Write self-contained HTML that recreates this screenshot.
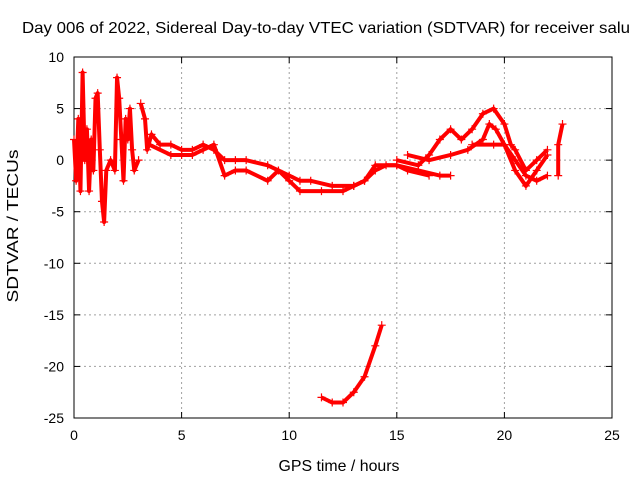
<!DOCTYPE html>
<html><head><meta charset="utf-8"><style>
body{margin:0;background:#fff}
svg{display:block;font-family:"Liberation Sans",sans-serif}
</style></head><body>
<svg id="chart" width="640" height="480">
<text x="22" y="33" font-size="16" textLength="608" lengthAdjust="spacingAndGlyphs">Day 006 of 2022, Sidereal Day-to-day VTEC variation (SDTVAR) for receiver salu</text>
<g id="grid"></g><g id="axes"></g><g id="marks"></g>
<text x="339" y="471" font-size="16" text-anchor="middle" textLength="121" lengthAdjust="spacingAndGlyphs">GPS time / hours</text>
<text transform="translate(18,226) rotate(-90)" font-size="16" text-anchor="middle" textLength="153" lengthAdjust="spacingAndGlyphs">SDTVAR / TECUs</text>
</svg>
<script>
const xTicks=[0,5,10,15,20,25];
const yTicks=[10,5,0,-5,-10,-15,-20,-25];
const trackEarly=[[0,2],[0.1,-2],[0.2,4],[0.3,-3],[0.4,8.5],[0.5,0],[0.6,3],[0.7,-3],[0.8,2],[0.9,-1],[1.0,6],[1.1,6.5],[1.2,1],[1.3,-4],[1.4,-6],[1.5,-1],[1.7,0],[1.9,-1],[2.0,8],[2.1,6],[2.2,2],[2.3,-2],[2.4,4],[2.5,2],[2.6,5],[2.7,1],[2.8,-1],[3.0,0]];
const trackUpper=[[3.1,5.5],[3.3,4],[3.4,1],[3.6,2.5],[4,1.5],[4.5,1.5],[5,1],[5.5,1],[6,1.5],[6.5,1],[7,0],[7.5,0],[8,0],[9,-0.5],[10,-1.5],[10.5,-2],[11,-2],[12,-2.5],[13,-2.5],[13.5,-2],[14,-1],[14.5,-0.5],[15,-0.5],[16,-1],[17,-1.5],[17.5,-1.5]];
const trackLower=[[3.5,1.5],[4.5,0.5],[5,0.5],[5.5,0.5],[6,1],[6.5,1.5],[7,-1.5],[7.5,-1],[8,-1],[9,-2],[9.5,-1],[10,-2],[10.5,-3],[11.5,-3],[12.5,-3],[13,-2.5],[13.5,-2],[14,-0.5],[15,-0.5],[15.5,-1],[16.5,-1.5]];
const trackD=[[15,0],[16,-0.5],[16.5,0.5],[17,2],[17.5,3],[18,2],[18.5,3],[19,4.5],[19.5,5],[20,3.5],[20.3,1.5],[20.5,1],[21,-1],[21.5,0],[22,1]];
const trackE=[[15.5,0.5],[16.5,0],[17.5,0.5],[18.3,1],[19,2],[19.3,3.5],[19.6,3],[20,1.5],[20.5,-1],[21,-2.5],[21.5,-1],[22,0.5]];
const trackF=[[18.5,1.5],[19.5,1.5],[20,1.5],[20.5,0],[21,-1.5],[21.5,-2],[22,-1.5]];
const trackG=[[22.5,-1.5],[22.5,1.5],[22.7,3.5]];
const trackH=[[11.5,-23],[12,-23.5],[12.5,-23.5],[13,-22.5],[13.5,-21],[14,-18],[14.3,-16]];
const tracks=[trackEarly,trackUpper,trackLower,trackD,trackE,trackF,trackG,trackH];
const X0=74,X1=612,Y0=57,Y1=418;
const sx=v=>X0+(v-0)/(25-0)*(X1-X0);
const sy=v=>Y0+(10-v)/(10+25)*(Y1-Y0);
const NS="http://www.w3.org/2000/svg";
function mk(tag,attrs,parent){const e=document.createElementNS(NS,tag);for(const k in attrs)e.setAttribute(k,attrs[k]);parent.appendChild(e);return e;}
const grid=document.getElementById('grid'),axes=document.getElementById('axes'),marks=document.getElementById('marks');
xTicks.forEach(t=>{
 const x=sx(t);
 if(t>0&&t<25){const g=mk('line',{x1:x,x2:x,y1:Y0,y2:Y1,stroke:'#a0a0a0','stroke-dasharray':'2,3','stroke-width':1},grid);
 
 }
 mk('line',{x1:x,x2:x,y1:Y1,y2:Y1-6,stroke:'#000'},axes);
 mk('line',{x1:x,x2:x,y1:Y0,y2:Y0+6,stroke:'#000'},axes);
 const l=mk('text',{x:x,y:Y1+22,'font-size':14,'text-anchor':'middle'},axes);
 l.textContent=t;
 
 
});
yTicks.forEach(t=>{
 const y=sy(t);
 if(t<10&&t>-25){const g=mk('line',{x1:X0,x2:X1,y1:y,y2:y,stroke:'#a0a0a0','stroke-dasharray':'2,3','stroke-width':1},grid);
 
 }
 mk('line',{x1:X0,x2:X0+6,y1:y,y2:y,stroke:'#000'},axes);
 mk('line',{x1:X1,x2:X1-6,y1:y,y2:y,stroke:'#000'},axes);
 const l=mk('text',{x:X0-10,y:y+5,'font-size':14,'text-anchor':'end'},axes);
 l.textContent=t;
 
 
});
const frame=mk('rect',{x:X0,y:Y0,width:X1-X0,height:Y1-Y0,fill:'none',stroke:'#000'},axes);


tracks.forEach((tr,i)=>{
 const p=mk('polyline',{points:tr.map(d=>sx(d[0])+','+sy(d[1])).join(' '),fill:'none',stroke:'#f00','stroke-width':4,'stroke-linejoin':'round'},marks);
 
 
 tr.forEach(d=>{
  const x=sx(d[0]),y=sy(d[1]);
  const m=mk('path',{d:`M${x-4},${y}H${x+4}M${x},${y-4}V${y+4}`,stroke:'#f00','stroke-width':1.2},marks);
  
  
 });
});
</script>
</body></html>
